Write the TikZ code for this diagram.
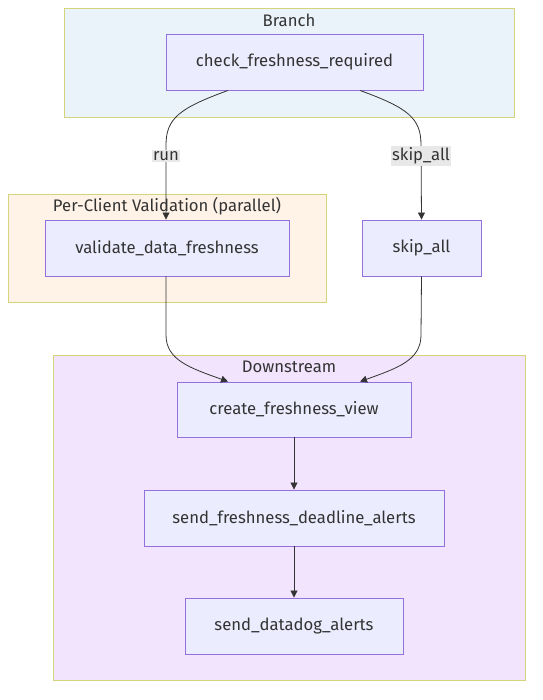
\documentclass[tikz,border=0pt]{standalone}
\usepackage{fontspec}
\setmainfont{Fira Sans}
\usetikzlibrary{arrows.meta,calc}
\definecolor{nodefill}{HTML}{ECECFF}
\definecolor{nodeline}{HTML}{9370DB}
\definecolor{clline}{HTML}{D4D47A}
\definecolor{branchfill}{HTML}{EAF3FA}
\definecolor{clientfill}{HTML}{FFF3E8}
\definecolor{downfill}{HTML}{F2E4FC}
\definecolor{edgecol}{HTML}{333333}
\definecolor{lblfill}{HTML}{E8E8E8}
\definecolor{txt}{HTML}{333333}
\tikzset{
  task/.style={draw=nodeline, fill=nodefill, line width=0.9pt, font=\fontsize{16.7}{19}\selectfont, text=txt, inner sep=0pt},
  cluster/.style={draw=clline, line width=0.9pt, inner sep=0pt},
  ctitle/.style={font=\fontsize{16.7}{19}\selectfont, text=txt},
  arr/.style={draw=edgecol, line width=0.8pt, -{Triangle[length=7pt,width=7pt]}},
  elabel/.style={fill=lblfill, font=\fontsize{16.7}{19}\selectfont, text=txt, inner sep=1.5pt}
}
\begin{document}
\begin{tikzpicture}[x=1pt,y=-1pt]
\useasboundingbox (0,0) rectangle (542,700);
\fill[white] (0,0) rectangle (542,700);
% clusters
\node[cluster, fill=branchfill, minimum width=450pt, minimum height=109pt] (branch) at (289,62.5) {};
\node[ctitle] (branchT) at (289,20) {Branch};
\node[cluster, fill=clientfill, minimum width=318pt, minimum height=108pt] (client) at (167,248) {};
\node[ctitle] (clientT) at (167,206) {Per-Client Validation (parallel)};
\node[cluster, fill=downfill, minimum width=472pt, minimum height=325pt] (down) at (289,517.5) {};
\node[ctitle] (downT) at (289,367) {Downstream};
% tasks
\node[task, minimum width=257pt, minimum height=56pt] (check) at (294.5,62) {check\_freshness\_required};
\node[task, minimum width=244pt, minimum height=56pt] (validate) at (167,248) {validate\_data\_freshness};
\node[task, minimum width=119pt, minimum height=56pt] (skip) at (421.5,248) {skip\_all};
\node[task, minimum width=234pt, minimum height=55pt] (create) at (294,409.5) {create\_freshness\_view};
\node[task, minimum width=300pt, minimum height=56pt] (sfda) at (294,518) {send\_freshness\_deadline\_alerts};
\node[task, minimum width=218pt, minimum height=56pt] (sda) at (294,626) {send\_datadog\_alerts};
% edges
\draw[arr] ([xshift=-66.5pt]check.south) .. controls (180,108) and (166,118) .. (166,145) -- (validate.north -| 166,0);
\draw[arr] ([xshift=65.5pt]check.south) .. controls (408,108) and (421,118) .. (421,145) -- (skip.north);
\node[elabel] (lrun) at (166,156) {run};
\node[elabel] (lskip) at (421,156) {skip\_all};
\draw[arr] (validate.south -| 166,0) -- (166,335) .. controls (166,360) and (190,368) .. ([xshift=-66pt]create.north);
\draw[arr] (skip.south) -- (421,335) .. controls (421,360) and (398,368) .. ([xshift=66pt]create.north);
\draw[arr] (create.south) -- (sfda.north);
\draw[arr] (sfda.south) -- (sda.north);
\end{tikzpicture}
\end{document}
